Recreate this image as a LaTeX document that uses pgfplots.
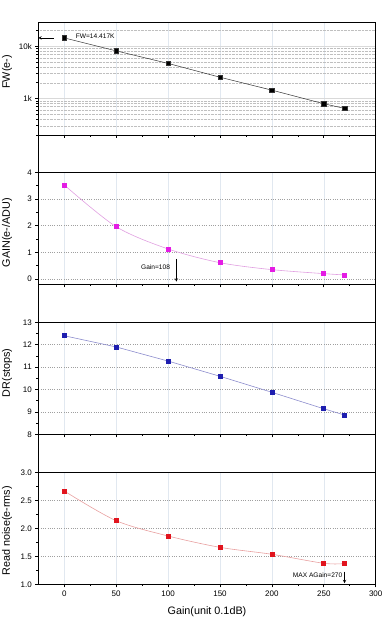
\documentclass[border=0pt]{standalone}
\usepackage{pgfplots}
\pgfplotsset{compat=1.18}
\usepackage{fontspec}
\setmainfont{Liberation Sans}
\definecolor{cmag}{RGB}{228,28,228}
\definecolor{cblue}{RGB}{30,30,175}
\definecolor{cred}{RGB}{225,20,30}
\definecolor{lmag}{RGB}{225,160,225}
\definecolor{lblue}{RGB}{140,140,205}
\definecolor{lred}{RGB}{232,160,160}
\definecolor{vgrid}{RGB}{225,232,240}
\pgfplotsset{
  panel/.style={
    scale only axis, width=337.4pt, height=112pt,
    xmin=-25, xmax=300,
    xtick={0,50,100,150,200,250,300}, minor x tick num=1,
    tick align=outside, xtick pos=lower, ytick pos=left,
    major tick length=3pt, minor tick length=1.8pt,
    tick style={black, line width=0.6pt},
    axis line style={line width=0.7pt},
    clip mode=individual,
    xmajorgrids, ymajorgrids,
    x grid style={vgrid, solid, line width=0.5pt},
    major grid style={gray!30, line width=0.4pt},
    tick label style={font=\fontsize{8}{9}\selectfont},
    label style={font=\fontsize{10.8}{12}\selectfont},
    /pgf/number format/assume math mode=true,
    anchor=north west,
  },
  ylab/.style={ylabel style={at={(axis description cs:-0.0928,#1)}, rotate=0, anchor=center}},
  dashgrid/.style={y grid style={dash pattern=on 1pt off 1.3pt, gray!75, line width=0.45pt}},
}
\begin{document}
\begin{tikzpicture}
\path[use as bounding box] (0pt,0pt) rectangle (390pt,-623pt);

% Panel 1: FW
\begin{axis}[panel, at={(38.3pt,-22.3pt)}, height=112.7pt,
  ymode=log, ymin=200, ymax=28700,
  ytick={1000,10000}, yticklabels={1k,10k},
  minor ytick={200,300,400,500,600,700,800,900,2000,3000,4000,5000,6000,7000,8000,9000,20000},
  yminorgrids, minor grid style={densely dotted, gray!50, line width=0.4pt},
  xticklabels={},
  ylabel={FW(e-)}, ylab=0.56]
\addplot[black!80, line width=0.5pt, mark=square*, mark size=2.2pt, mark options={solid, fill=black}]
  coordinates {(0,14417) (50,8150) (100,4690) (150,2550) (200,1443) (250,793) (270,646)};
\draw[-stealth, line width=0.5pt] (axis cs:-10,14417) -- (axis cs:-25,14417);
\node[anchor=west, font=\fontsize{6.6}{7}\selectfont, inner sep=0pt] at (axis cs:11,15300) {FW=14.417K};
\end{axis}

% Panel 2: GAIN
\begin{axis}[panel, dashgrid, at={(38.3pt,-172.3pt)},
  ymin=-0.2, ymax=4, ytick={0,1,2,3,4}, minor y tick num=1,
  xticklabels={},
  ylabel={GAIN(e-/ADU)}, ylab=0.46]
\addplot[lmag, line width=0.6pt, smooth, mark=square*, mark size=2pt, mark options={solid, fill=cmag, draw=cmag}]
  coordinates {(0,3.525) (50,1.96) (100,1.125) (150,0.61) (200,0.35) (250,0.2) (270,0.15)};
\draw[-stealth, line width=0.5pt] (axis cs:108,0.75) -- (axis cs:108,-0.1);
\node[anchor=east, font=\fontsize{6.6}{7}\selectfont, inner sep=0pt] at (axis cs:102,0.44) {Gain=108};
\end{axis}

% Panel 3: DR
\begin{axis}[panel, dashgrid, at={(38.3pt,-322.3pt)},
  ymin=8, ymax=13, ytick={8,9,10,11,12,13}, minor y tick num=1,
  xticklabels={},
  ylabel={DR(stops)}, ylab=0.55]
\addplot[lblue, line width=0.6pt, mark=square*, mark size=2pt, mark options={solid, fill=cblue, draw=cblue}]
  coordinates {(0,12.40) (50,11.90) (100,11.27) (150,10.59) (200,9.875) (250,9.14) (270,8.86)};
\end{axis}

% Panel 4: Read noise
\begin{axis}[panel, dashgrid, at={(38.3pt,-472.3pt)},
  ymin=1, ymax=3, ytick={1,1.5,2,2.5,3}, minor y tick num=1,
  yticklabel style={/pgf/number format/.cd, fixed, fixed zerofill, precision=1},
  xlabel={Gain(unit 0.1dB)},
  xlabel style={at={(axis description cs:0.5,-0.245)}, anchor=center},
  ylabel={Read noise(e-rms)}, ylab=0.478]
\addplot[lred, line width=0.6pt, smooth, mark=square*, mark size=2pt, mark options={solid, fill=cred, draw=cred}]
  coordinates {(0,2.666) (50,2.136) (100,1.863) (150,1.66) (200,1.536) (250,1.375) (270,1.37)};
\draw[-stealth, line width=0.5pt] (axis cs:270,1.225) -- (axis cs:270,1.02);
\node[anchor=east, font=\fontsize{6.6}{7}\selectfont, inner sep=0pt] at (axis cs:268,1.166) {MAX AGain=270};
\end{axis}

% blank layer frames and thick layer tops
\foreach \yt/\yb in {135.0/172.3, 284.3/322.3, 434.3/472.3} {
  \draw[line width=0.7pt] (38.3pt,-\yt pt) -- (38.3pt,-\yb pt);
  \draw[line width=0.7pt] (375.7pt,-\yt pt) -- (375.7pt,-\yb pt);
  \draw[line width=1.2pt] (38.3pt,-\yb pt) -- (375.7pt,-\yb pt);
}
\end{tikzpicture}
\end{document}
